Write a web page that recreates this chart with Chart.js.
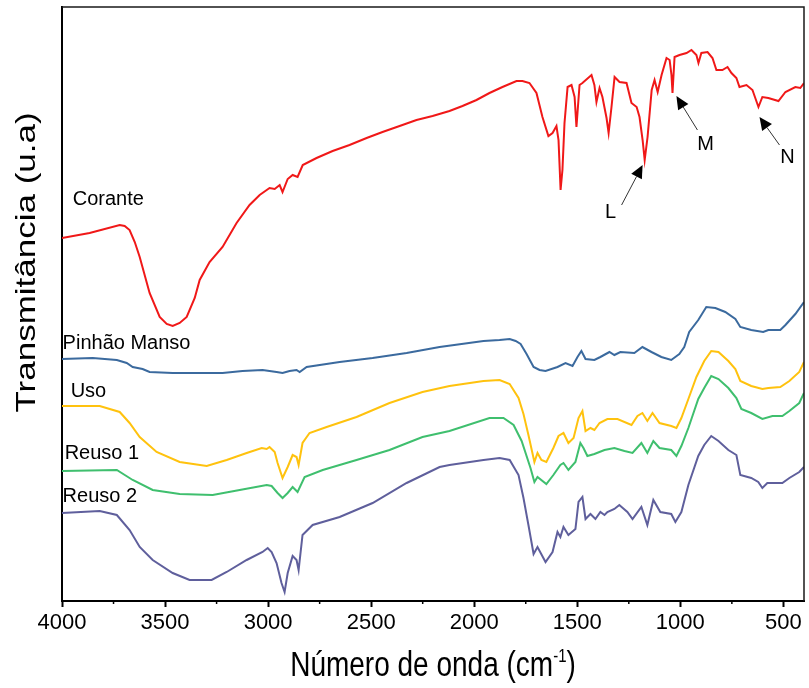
<!DOCTYPE html>
<html>
<head>
<meta charset="utf-8">
<script src="https://cdn.jsdelivr.net/npm/chart.js@4.4.1/dist/chart.umd.min.js"></script>
<style>
  html, body { margin: 0; padding: 0; background: #fff; }
  #wrap { width: 809px; height: 688px; }
</style>
</head>
<body>
<div id="wrap"><canvas id="c" width="809" height="688"></canvas></div>
<script>
// FTIR spectra: wavenumber (cm-1) and transmittance (arbitrary units, curves offset)
const coranteWn = [4000,3866,3720,3696,3672,3647,3623,3575,3526,3492,3463,3429,3395,3356,3332,3284,3221,3153,3090,3041,2993,2968,2944,2930,2905,2881,2857,2832,2765,2687,2605,2522,2445,2362,2280,2202,2120,2057,1989,1926,1863,1795,1766,1732,1698,1669,1640,1620,1601,1591,1581,1572,1562,1547,1528,1513,1504,1489,1475,1431,1417,1407,1392,1378,1358,1348,1334,1319,1295,1261,1237,1212,1198,1183,1173,1159,1139,1125,1110,1091,1067,1052,1043,1038,1028,1004,970,946,922,912,898,868,844,825,796,771,752,728,713,679,650,621,602,573,524,490,442,418,400];
const coranteT = [72.6,73.6,75.2,75.0,74.2,71.8,68.8,61.6,56.8,55.4,55.0,55.6,56.8,60.6,64.2,67.8,70.8,75.6,79.2,81.2,82.6,82.4,83.2,81.8,84.4,85.2,84.8,87.2,88.6,90.0,91.2,92.6,93.8,95.0,96.2,97.0,98.0,99.0,100.2,101.6,102.8,104.0,104.0,103.6,101.6,96.8,93.0,93.6,95.0,92.2,82.2,86.2,95.6,102.8,103.2,100.8,94.8,103.2,103.6,105.2,103.2,99.8,102.6,100.8,96.6,93.6,98.8,104.8,103.8,103.6,99.6,98.8,96.8,92.2,88.2,92.8,102.2,104.2,101.8,105.2,108.6,108.2,105.2,101.6,108.8,109.2,109.6,110.2,109.2,107.6,109.6,109.8,108.6,106.2,106.2,106.8,105.6,104.6,102.8,103.2,102.2,98.8,100.8,100.6,100.0,101.8,102.8,102.6,103.6];

const pinhaoWn = [4000,3851,3734,3686,3657,3609,3575,3463,3221,3124,3027,2959,2930,2896,2862,2847,2813,2653,2493,2328,2168,1955,1877,1828,1799,1775,1746,1712,1683,1654,1596,1557,1523,1499,1480,1460,1417,1388,1344,1320,1291,1223,1184,1140,1092,1044,1005,981,957,913,874,830,782,733,709,656,598,573,515,490,442,400];
const pinhaoT = [48.4,48.6,48.2,47.6,46.8,46.4,45.8,45.6,45.6,46.0,46.2,45.8,45.6,46.0,46.2,45.8,46.8,47.8,48.6,49.6,50.8,52.0,52.2,52.4,52.0,51.4,49.4,46.8,46.2,46.0,46.8,47.6,47.0,48.8,50.0,48.4,48.2,48.8,49.8,49.2,49.8,49.6,50.8,49.8,48.8,48.2,49.4,50.8,53.8,56.2,58.8,58.6,57.8,56.4,54.8,54.2,53.8,54.2,54.2,55.2,57.4,59.8];

const usoWn = [4000,3817,3720,3672,3623,3541,3429,3298,3201,3104,3031,3007,2993,2968,2954,2930,2905,2881,2862,2852,2833,2799,2716,2571,2411,2251,2120,1955,1877,1828,1785,1761,1737,1708,1693,1674,1650,1616,1591,1567,1543,1518,1494,1475,1460,1436,1417,1392,1354,1305,1237,1208,1184,1160,1135,1101,1044,1019,995,961,922,884,850,815,767,733,709,656,602,573,515,471,423,400];
const usoT = [39.0,39.0,37.8,35.6,32.8,29.8,27.8,27.0,28.2,29.6,30.6,30.4,30.8,29.8,27.6,24.6,26.8,29.2,28.8,27.2,31.6,33.6,34.8,36.8,39.6,41.8,43.0,44.0,44.2,43.4,40.6,37.4,33.2,27.8,29.6,28.2,27.8,30.6,33.0,33.6,31.6,32.6,36.6,38.0,34.0,34.6,34.2,35.6,36.4,36.4,35.2,37.0,37.6,36.0,37.6,35.6,35.0,34.6,36.6,40.4,44.8,48.0,50.0,49.8,48.0,46.4,44.0,43.0,42.4,42.6,42.8,44.0,45.8,47.8];

const reuso1Wn = [4000,3734,3657,3560,3429,3269,3138,3007,2983,2954,2930,2905,2881,2857,2823,2735,2571,2411,2251,2120,1926,1858,1809,1770,1727,1708,1693,1650,1616,1582,1567,1543,1509,1485,1470,1451,1417,1368,1320,1271,1232,1189,1160,1131,1101,1044,1019,995,961,913,884,850,815,767,728,704,656,602,553,505,471,423,400];
const reuso1T = [26.0,26.2,24.2,22.2,21.4,21.2,22.2,23.2,23.0,21.6,20.6,21.6,22.8,21.8,24.8,26.2,28.2,30.2,32.8,34.0,36.6,36.6,35.2,32.0,26.6,23.8,24.8,23.4,25.2,27.2,27.6,26.2,27.8,31.6,30.6,29.0,29.4,30.2,30.6,30.0,29.6,31.6,29.6,32.0,30.6,30.2,29.0,31.0,34.6,40.4,42.6,45.0,44.4,42.6,40.6,38.4,37.6,36.4,37.0,37.0,38.0,39.6,41.6];

const reuso2Wn = [4000,3817,3734,3672,3623,3560,3463,3381,3274,3201,3104,3027,3002,2983,2959,2935,2920,2905,2881,2862,2852,2833,2784,2653,2493,2328,2168,2120,1955,1877,1828,1785,1761,1737,1712,1693,1654,1620,1596,1582,1567,1543,1509,1494,1475,1460,1436,1412,1388,1368,1354,1320,1296,1257,1232,1189,1160,1131,1097,1044,1024,995,961,913,884,850,815,767,728,709,656,622,602,578,505,471,423,400];
const reuso2T = [17.6,18.0,17.2,14.2,10.8,8.2,5.6,4.2,4.2,5.8,8.2,9.8,10.6,9.8,7.6,3.6,1.8,5.6,9.0,8.2,6.2,13.2,15.2,16.8,19.6,23.6,26.8,27.2,28.2,28.6,28.2,25.2,20.6,15.2,9.4,10.8,7.8,9.8,13.8,12.8,14.8,13.2,14.4,19.8,20.8,16.4,17.4,16.4,17.8,17.2,17.8,18.4,19.2,17.8,16.4,18.8,15.2,20.2,17.8,17.4,15.8,17.8,23.2,29.0,31.2,33.0,32.0,30.2,29.2,25.2,24.6,23.8,22.6,23.6,23.6,24.6,25.8,26.8];

// Series names and where their labels sit (wavenumber, transmittance)
const seriesNames = ['Corante', 'Pinhão Manso', 'Uso', 'Reuso 1', 'Reuso 2'];
const seriesColors = ['#f01818', '#3b6a9e', '#ffc20e', '#3fbf6e', '#5f5f9c'];
const labelWn = [3948, 3997, 3958, 3987, 3997];
const labelT = [80.4, 51.6, 42.0, 29.6, 21.0];

// Band markers on the dye spectrum: letter, arrow tip, arrow tail, letter position
const bandLetters = ['L', 'M', 'N'];
const bandTipWn = [1183, 1019, 616];
const bandTipT = [87.2, 101.0, 96.8];
const bandTailWn = [1285, 917, 519];
const bandTailT = [79.2, 94.2, 91.2];
const bandTextWn = [1339, 878, 480];
const bandTextT = [77.8, 91.4, 88.8];

// Axis ticks
const xTickValues = [4000, 3500, 3000, 2500, 2000, 1500, 1000, 500];
const xMinorValues = [3750, 3250, 2750, 2250, 1750, 1250, 750];

const pairs = (wn, t) => wn.map((w, i) => ({ x: w, y: t[i] }));
const seriesData = [
  pairs(coranteWn, coranteT),
  pairs(pinhaoWn, pinhaoT),
  pairs(usoWn, usoT),
  pairs(reuso1Wn, reuso1T),
  pairs(reuso2Wn, reuso2T)
];

const SANS = '"Liberation Sans", Arial, sans-serif';

const overlay = {
  id: 'overlay',
  afterDraw(chart) {
    const { ctx, chartArea: a, scales: { x, y } } = chart;
    ctx.save();

    // closing frame (top and right)
    ctx.strokeStyle = '#1a1a1a';
    ctx.lineWidth = 1.5;
    ctx.beginPath();
    ctx.moveTo(a.left, a.top);
    ctx.lineTo(a.right, a.top);
    ctx.lineTo(a.right, a.bottom);
    ctx.stroke();

    // minor ticks on the wavenumber axis
    ctx.strokeStyle = '#000';
    ctx.lineWidth = 1.5;
    xMinorValues.forEach(v => {
      const px = x.getPixelForValue(v);
      ctx.beginPath();
      ctx.moveTo(px, a.bottom);
      ctx.lineTo(px, a.bottom + 3);
      ctx.stroke();
    });

    // series labels
    ctx.fillStyle = '#000';
    ctx.font = '20px ' + SANS;
    ctx.textAlign = 'left';
    ctx.textBaseline = 'middle';
    seriesNames.forEach((n, i) => {
      ctx.fillText(n, x.getPixelForValue(labelWn[i]), y.getPixelForValue(labelT[i]));
    });

    // band arrows
    bandLetters.forEach((letter, i) => {
      const tx = x.getPixelForValue(bandTipWn[i]), ty = y.getPixelForValue(bandTipT[i]);
      const sx = x.getPixelForValue(bandTailWn[i]), sy = y.getPixelForValue(bandTailT[i]);
      const ang = Math.atan2(ty - sy, tx - sx);
      const head = 13, half = 6;
      const bx = tx - head * Math.cos(ang), by = ty - head * Math.sin(ang);
      ctx.strokeStyle = '#333';
      ctx.lineWidth = 1;
      ctx.beginPath();
      ctx.moveTo(sx, sy);
      ctx.lineTo(bx, by);
      ctx.stroke();
      ctx.fillStyle = '#000';
      ctx.beginPath();
      ctx.moveTo(tx, ty);
      ctx.lineTo(bx + half * Math.sin(ang), by - half * Math.cos(ang));
      ctx.lineTo(bx - half * Math.sin(ang), by + half * Math.cos(ang));
      ctx.closePath();
      ctx.fill();
      ctx.font = '20px ' + SANS;
      ctx.textAlign = 'center';
      ctx.textBaseline = 'middle';
      ctx.fillText(letter, x.getPixelForValue(bandTextWn[i]), y.getPixelForValue(bandTextT[i]));
    });

    // y axis title (rotated, elongated along its length)
    ctx.save();
    ctx.translate(35, a.top + 0.43 * (a.bottom - a.top));
    ctx.rotate(-Math.PI / 2);
    ctx.scale(1.25, 1);
    ctx.font = '28px ' + SANS;
    ctx.textAlign = 'center';
    ctx.textBaseline = 'alphabetic';
    ctx.fillStyle = '#000';
    ctx.fillText('Transmitância (u.a)', 0, 0);
    ctx.restore();

    // x axis title with superscript, elongated vertically
    const main = 'Número de onda (cm', sup = '-1', close = ')';
    ctx.font = '28px ' + SANS;
    const w1 = ctx.measureText(main).width, w3 = ctx.measureText(close).width;
    ctx.font = '15px ' + SANS;
    const w2 = ctx.measureText(sup).width;
    const cx = (a.left + a.right) / 2;
    let px = cx - (w1 + w2 + w3) / 2;
    ctx.save();
    ctx.translate(0, 676);
    ctx.scale(1, 1.25);
    ctx.fillStyle = '#000';
    ctx.textAlign = 'left';
    ctx.textBaseline = 'alphabetic';
    ctx.font = '28px ' + SANS;
    ctx.fillText(main, px, 0);
    px += w1;
    ctx.font = '15px ' + SANS;
    ctx.fillText(sup, px, -11);
    px += w2;
    ctx.font = '28px ' + SANS;
    ctx.fillText(close, px, 0);
    ctx.restore();

    ctx.restore();
  }
};

new Chart(document.getElementById('c'), {
  type: 'line',
  data: {
    datasets: seriesNames.map((n, i) => ({
      label: n,
      data: seriesData[i],
      borderColor: seriesColors[i],
      backgroundColor: seriesColors[i],
      borderWidth: 2,
      pointRadius: 0,
      tension: 0,
      fill: false
    }))
  },
  options: {
    responsive: false,
    animation: false,
    layout: { padding: { top: 7, right: 5, left: 0, bottom: 0 } },
    plugins: { legend: { display: false }, tooltip: { enabled: false } },
    scales: {
      x: {
        type: 'linear',
        reverse: true,
        min: 400,
        max: 4000,
        afterBuildTicks: s => { s.ticks = xTickValues.map(v => ({ value: v })); },
        afterFit: s => { s.height = 87; },
        ticks: {
          color: '#000',
          font: { family: SANS, size: 22 },
          padding: 3,
          maxRotation: 0,
          autoSkip: false,
          callback: v => String(v)
        },
        grid: { display: true, drawOnChartArea: false, drawTicks: true, tickLength: 6, tickWidth: 2, tickColor: '#000' },
        border: { display: true, color: '#000', width: 2 }
      },
      y: {
        min: 0,
        max: 118.8,
        afterFit: s => { s.width = 62; },
        ticks: { display: false },
        grid: { display: false },
        border: { display: true, color: '#000', width: 2 }
      }
    }
  },
  plugins: [overlay]
});
</script>
</body>
</html>
